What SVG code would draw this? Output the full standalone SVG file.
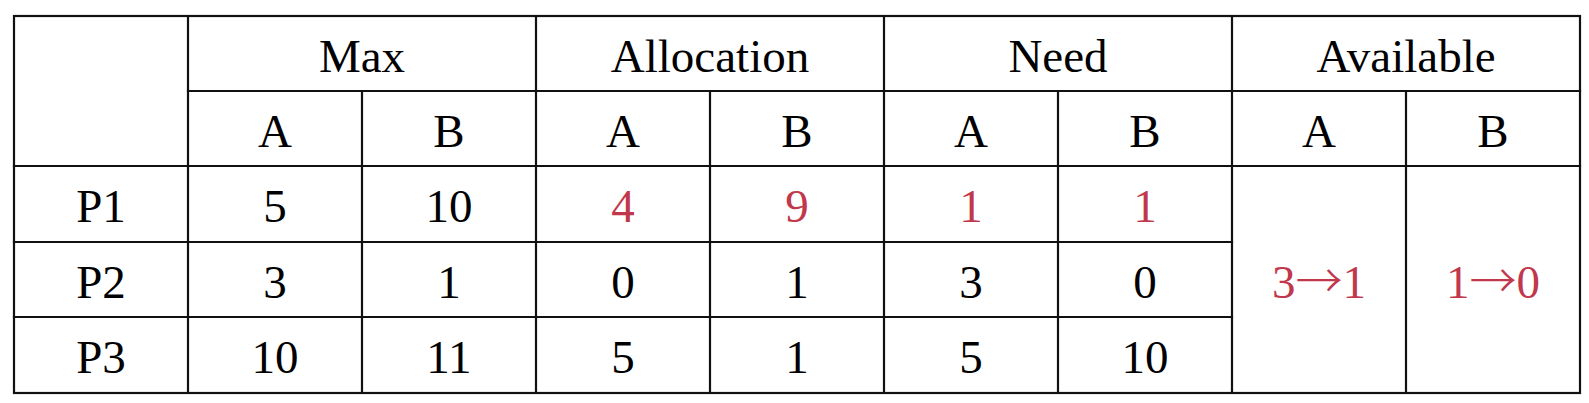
<svg xmlns="http://www.w3.org/2000/svg" width="1589" height="403" viewBox="0 0 1589 403">
<style>
.g line{stroke:#111;stroke-width:2.2;stroke-linecap:square}
text{font-family:"Liberation Serif","Times New Roman",serif;font-size:47px;text-anchor:middle;fill:#000}
.r{fill:#C1374B}
.ar{font-family:"Noto Sans CJK JP","Noto Sans CJK SC",sans-serif;font-weight:300}
</style>
<rect width="1589" height="403" fill="#fff"/>
<g id="grid" class="g">
<rect x="14" y="16" width="1566" height="377" fill="none" stroke="#111" stroke-width="2.2"/>
<line x1="188" y1="91" x2="1580" y2="91"/>
<line x1="14" y1="166" x2="1580" y2="166"/>
<line x1="14" y1="242" x2="1232" y2="242"/>
<line x1="14" y1="317" x2="1232" y2="317"/>
<line x1="188" y1="16" x2="188" y2="393"/>
<line x1="536" y1="16" x2="536" y2="393"/>
<line x1="884" y1="16" x2="884" y2="393"/>
<line x1="1232" y1="16" x2="1232" y2="393"/>
<line x1="362" y1="91" x2="362" y2="393"/>
<line x1="710" y1="91" x2="710" y2="393"/>
<line x1="1058" y1="91" x2="1058" y2="393"/>
<line x1="1406" y1="91" x2="1406" y2="393"/>
</g>
<g id="headers">
<text x="362" y="72">Max</text>
<text x="710" y="72">Allocation</text>
<text x="1058" y="72">Need</text>
<text x="1406" y="72">Available</text>
<text x="275" y="147">A</text>
<text x="449" y="147">B</text>
<text x="623" y="147">A</text>
<text x="797" y="147">B</text>
<text x="971" y="147">A</text>
<text x="1145" y="147">B</text>
<text x="1319" y="147">A</text>
<text x="1493" y="147">B</text>
</g>
<g id="row-p1">
<text x="101" y="222">P1</text>
<text x="275" y="222">5</text>
<text x="449" y="222">10</text>
<text class="r" x="623" y="222">4</text>
<text class="r" x="797" y="222">9</text>
<text class="r" x="971" y="222">1</text>
<text class="r" x="1145" y="222">1</text>
</g>
<g id="row-p2">
<text x="101" y="298">P2</text>
<text x="275" y="298">3</text>
<text x="449" y="298">1</text>
<text x="623" y="298">0</text>
<text x="797" y="298">1</text>
<text x="971" y="298">3</text>
<text x="1145" y="298">0</text>
</g>
<g id="row-p3">
<text x="101" y="373">P3</text>
<text x="275" y="373">10</text>
<text x="449" y="373">11</text>
<text x="623" y="373">5</text>
<text x="797" y="373">1</text>
<text x="971" y="373">5</text>
<text x="1145" y="373">10</text>
</g>
<g id="available">
<text class="r" x="1319" y="298">3<tspan class="ar">→</tspan>1</text>
<text class="r" x="1493" y="298">1<tspan class="ar">→</tspan>0</text>
</g>
</svg>
